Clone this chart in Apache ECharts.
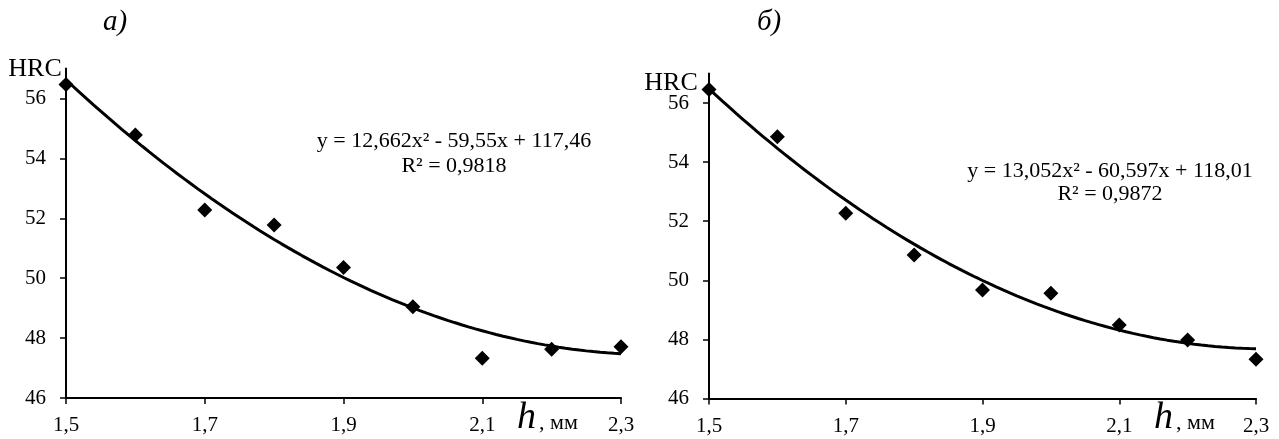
<!DOCTYPE html>
<html>
<head>
<meta charset="utf-8">
<script src="https://cdn.jsdelivr.net/npm/echarts@6/dist/echarts.min.js"></script>
<style>
html,body{margin:0;padding:0;background:#fff;}
#chart{width:1279px;height:439px;}
</style>
</head>
<body>
<div id="chart"></div>
<script>
// ---- data ----
const hValues = [1.5, 1.6, 1.7, 1.8, 1.9, 2.0, 2.1, 2.2, 2.3];
const hrcA = [56.47, 54.78, 52.28, 51.78, 50.36, 49.05, 47.33, 47.63, 47.71];
const hrcB = [56.46, 54.86, 52.27, 50.86, 49.67, 49.56, 48.49, 47.98, 47.33];
const trendCoefA = [12.662, -59.55, 117.46];
const trendCoefB = [13.052, -60.597, 118.01];
const xTicks = [1.5, 1.7, 1.9, 2.1, 2.3];
const yTicks = [46, 48, 50, 52, 54, 56];
const eqA = ['y = 12,662x² - 59,55x + 117,46', 'R² = 0,9818'];
const eqB = ['y = 13,052x² - 60,597x + 118,01', 'R² = 0,9872'];
const panelTitles = ['а)', 'б)'];

const FONT = '"Liberation Serif", "Times New Roman", serif';

function trendPoints(c) {
  const pts = [];
  for (let i = 0; i <= 80; i++) {
    const x = 1.5 + i * 0.01;
    pts.push([x, c[0] * x * x + c[1] * x + c[2]]);
  }
  return pts;
}

function xAxis(gi) {
  return {
    type: 'value', gridIndex: gi, min: 1.5, max: 2.3, interval: 0.1,
    splitLine: {show: false},
    axisLine: {lineStyle: {color: '#000', width: 2}},
    axisTick: {show: true, length: 6, customValues: xTicks, lineStyle: {color: '#000', width: 1.5}},
    axisLabel: {customValues: xTicks, color: '#000', fontFamily: FONT, fontSize: 21, margin: 17,
      formatter: v => String(v).replace('.', ',')}
  };
}
function yAxis(gi) {
  return {
    type: 'value', gridIndex: gi, min: 46, max: 57, interval: 1,
    splitLine: {show: false},
    axisLine: {show: true, lineStyle: {color: '#000', width: 2}},
    axisTick: {show: true, length: 6, customValues: yTicks, lineStyle: {color: '#000', width: 1.5}},
    axisLabel: {customValues: yTicks, color: '#000', fontFamily: FONT, fontSize: 21, margin: 20}
  };
}

function scatter(gi, data) {
  return {
    type: 'scatter', xAxisIndex: gi, yAxisIndex: gi,
    data: hValues.map((h, i) => [h, data[i]]),
    symbol: 'diamond', symbolSize: 15,
    itemStyle: {color: '#000', opacity: 1}, z: 3
  };
}
function trend(gi, coef) {
  return {
    type: 'line', xAxisIndex: gi, yAxisIndex: gi, data: trendPoints(coef),
    showSymbol: false, smooth: false,
    lineStyle: {color: '#000', width: 3}, z: 2
  };
}

const chart = echarts.init(document.getElementById('chart'));
chart.setOption({
  backgroundColor: '#fff',
  animation: false,
  grid: [
    {left: 66, right: 658, top: 68.6, bottom: 41},
    {left: 709, right: 23, top: 73.5, bottom: 40.5}
  ],
  xAxis: [xAxis(0), xAxis(1)],
  yAxis: [yAxis(0), yAxis(1)],
  series: [
    trend(0, trendCoefA), scatter(0, hrcA),
    trend(1, trendCoefB), scatter(1, hrcB)
  ],
  graphic: [
    {type: 'text', left: 103, top: 8, style: {text: panelTitles[0], fill: '#000', font: 'italic 29px ' + FONT}},
    {type: 'text', left: 757, top: 8, style: {text: panelTitles[1], fill: '#000', font: 'italic 29px ' + FONT}},
    {type: 'text', x: 35, y: 69, style: {text: 'HRC', fill: '#000', font: '26px ' + FONT, align: 'center', verticalAlign: 'middle'}},
    {type: 'text', x: 671, y: 83, style: {text: 'HRC', fill: '#000', font: '26px ' + FONT, align: 'center', verticalAlign: 'middle'}},
    {type: 'text', x: 454, y: 141, style: {text: eqA[0], fill: '#000', font: '22px ' + FONT, align: 'center', verticalAlign: 'middle'}},
    {type: 'text', x: 454, y: 166, style: {text: eqA[1], fill: '#000', font: '22px ' + FONT, align: 'center', verticalAlign: 'middle'}},
    {type: 'text', x: 1110, y: 171, style: {text: eqB[0], fill: '#000', font: '22px ' + FONT, align: 'center', verticalAlign: 'middle'}},
    {type: 'text', x: 1110, y: 194, style: {text: eqB[1], fill: '#000', font: '22px ' + FONT, align: 'center', verticalAlign: 'middle'}},
    {type: 'text', x: 517, y: 437, style: {text: 'h', fill: '#000', font: 'italic 38px ' + FONT, verticalAlign: 'bottom'}},
    {type: 'text', x: 539, y: 434, style: {text: ', мм', fill: '#000', font: '22px ' + FONT, verticalAlign: 'bottom'}},
    {type: 'text', x: 1154, y: 437, style: {text: 'h', fill: '#000', font: 'italic 38px ' + FONT, verticalAlign: 'bottom'}},
    {type: 'text', x: 1176, y: 434, style: {text: ', мм', fill: '#000', font: '22px ' + FONT, verticalAlign: 'bottom'}}
  ]
});
</script>
</body>
</html>
